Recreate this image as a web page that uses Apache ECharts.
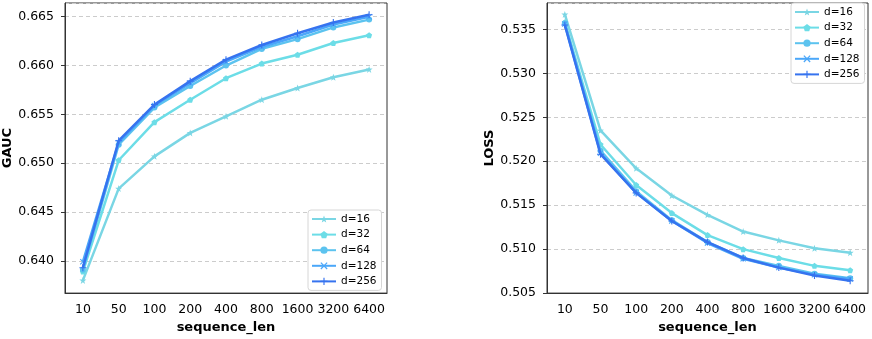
<!DOCTYPE html>
<html>
<head>
<meta charset="utf-8">
<script src="https://cdn.jsdelivr.net/npm/echarts@6/dist/echarts.min.js"></script>
<style>
  html, body { margin: 0; padding: 0; background: #fff; }
  #chart { width: 872px; height: 339px; }
</style>
</head>
<body>
<div id="chart"></div>
<script>
var seqLen = ['10', '50', '100', '200', '400', '800', '1600', '3200', '6400'];
var dimNames = ['d=16', 'd=32', 'd=64', 'd=128', 'd=256'];

var gaucD16  = [0.6380, 0.6474, 0.6507, 0.6531, 0.6548, 0.6565, 0.6577, 0.6588, 0.6596];
var gaucD32  = [0.6389, 0.6503, 0.6542, 0.6565, 0.6587, 0.6602, 0.6611, 0.6623, 0.6631];
var gaucD64  = [0.6391, 0.6519, 0.6557, 0.6579, 0.6600, 0.6617, 0.6627, 0.6639, 0.6647];
var gaucD128 = [0.6399, 0.6521, 0.6559, 0.6582, 0.6604, 0.6619, 0.6630, 0.6642, 0.6650];
var gaucD256 = [0.6393, 0.6523, 0.6560, 0.6584, 0.6606, 0.6621, 0.6633, 0.6644, 0.6652];

var lossD16  = [0.5367, 0.5235, 0.5192, 0.5161, 0.5139, 0.5120, 0.5110, 0.5101, 0.5096];
var lossD32  = [0.5358, 0.5219, 0.5173, 0.5141, 0.5116, 0.5100, 0.5090, 0.5081, 0.5076];
var lossD64  = [0.5357, 0.5212, 0.5166, 0.5133, 0.5108, 0.5090, 0.5081, 0.5072, 0.5067];
var lossD128 = [0.5356, 0.5209, 0.5164, 0.5132, 0.5107, 0.5089, 0.5079, 0.5071, 0.5066];
var lossD256 = [0.5355, 0.5208, 0.5164, 0.5132, 0.5108, 0.5090, 0.5079, 0.5070, 0.5064];

var colors = ['#7ad6e4', '#6cdde7', '#5cc3ef', '#4ba7f9', '#3673ef'];
var symbols = [
    'path://M0,-10 L2.35,-3.24 L9.51,-3.09 L3.8,1.24 L5.88,8.09 L0,4 L-5.88,8.09 L-3.8,1.24 L-9.51,-3.09 L-2.35,-3.24 Z',
    'path://M0,-10 L9.51,-3.09 L5.88,8.09 L-5.88,8.09 L-9.51,-3.09 Z',
    'circle',
    'path://M-8,-6 L-6,-8 L0,-2 L6,-8 L8,-6 L2,0 L8,6 L6,8 L0,2 L-6,8 L-8,6 L-2,0 Z',
    'path://M-1.6,-10 L1.6,-10 L1.6,-1.6 L10,-1.6 L10,1.6 L1.6,1.6 L1.6,10 L-1.6,10 L-1.6,1.6 L-10,1.6 L-10,-1.6 L-1.6,-1.6 Z'
];
var symbolSizes = [7, 6, 6, 6, 7];

var font = 'DejaVu Sans';

function makeSeries(list, idx) {
    var arr = [];
    for (var i = 0; i < list.length; i++) {
        arr.push({
            name: dimNames[i],
            type: 'line',
            xAxisIndex: idx,
            yAxisIndex: idx,
            data: list[i],
            color: colors[i],
            symbol: symbols[i],
            symbolSize: symbolSizes[i],
            showSymbol: true,
            lineStyle: { width: 2.5, color: colors[i] },
            itemStyle: { color: colors[i] },
            animation: false,
            z: 2 + i
        });
    }
    return arr;
}

function xAxisCfg(idx) {
    return {
        type: 'category',
        gridIndex: idx,
        data: seqLen,
        boundaryGap: true,
        name: 'sequence_len',
        nameLocation: 'middle',
        nameGap: 27,
        nameTextStyle: { fontFamily: font, fontSize: 13, fontWeight: 'bold', color: '#000' },
        axisLine: { lineStyle: { color: '#333', width: 1 } },
        axisTick: { alignWithLabel: true, length: 4, lineStyle: { color: '#333' } },
        axisLabel: { fontFamily: font, fontSize: 12.5, color: '#000', margin: 10, interval: 0 },
        splitLine: { show: false }
    };
}

function yAxisCfg(idx, name, min, max, gap) {
    return {
        type: 'value',
        gridIndex: idx,
        min: min,
        max: max,
        name: name,
        nameLocation: 'middle',
        nameGap: gap,
        nameRotate: 90,
        nameTextStyle: { fontFamily: font, fontSize: 13, fontWeight: 'bold', color: '#000' },
        axisLine: { show: true, lineStyle: { color: '#333', width: 1 } },
        axisTick: { show: true, length: 4, lineStyle: { color: '#333' } },
        axisLabel: {
            fontFamily: font, fontSize: 12.5, color: '#000', margin: 11,
            showMinLabel: idx == 1, showMaxLabel: false,
            formatter: function (v) { return v.toFixed(3); }
        },
        splitLine: { show: true, lineStyle: { color: '#cccccc', type: [4, 3], width: 1 } }
    };
}

function legendCfg(left, top) {
    return {
        orient: 'vertical',
        left: left,
        top: top,
        data: dimNames.slice(),
        itemWidth: 24,
        itemHeight: 9,
        itemGap: 3.6,
        padding: [3, 5, 3, 3],
        backgroundColor: '#fff',
        borderColor: '#d6d6d6',
        borderWidth: 1,
        borderRadius: 3,
        textStyle: { fontFamily: font, fontSize: 10.5, color: '#000', lineHeight: 12 },
        selectedMode: false
    };
}

var chart = echarts.init(document.getElementById('chart'), null, { renderer: 'canvas' });

var option = {
    backgroundColor: '#fff',
    animation: false,
    grid: [
        { left: 65, right: 485, top: 3, bottom: 42, show: true, borderColor: '#333', borderWidth: 1, backgroundColor: 'transparent' },
        { left: 547, right: 4, top: 3, bottom: 43, show: true, borderColor: '#333', borderWidth: 1, backgroundColor: 'transparent' }
    ],
    legend: [
        legendCfg(308, 210),
        legendCfg(791, 3)
    ],
    xAxis: [xAxisCfg(0), xAxisCfg(1)],
    yAxis: [
        yAxisCfg(0, 'GAUC', 0.6367, 0.6664, 47),
        yAxisCfg(1, 'LOSS', 0.505, 0.538, 51)
    ],
    series: makeSeries([gaucD16, gaucD32, gaucD64, gaucD128, gaucD256], 0)
        .concat(makeSeries([lossD16, lossD32, lossD64, lossD128, lossD256], 1))
};

chart.setOption(option);
</script>
</body>
</html>
